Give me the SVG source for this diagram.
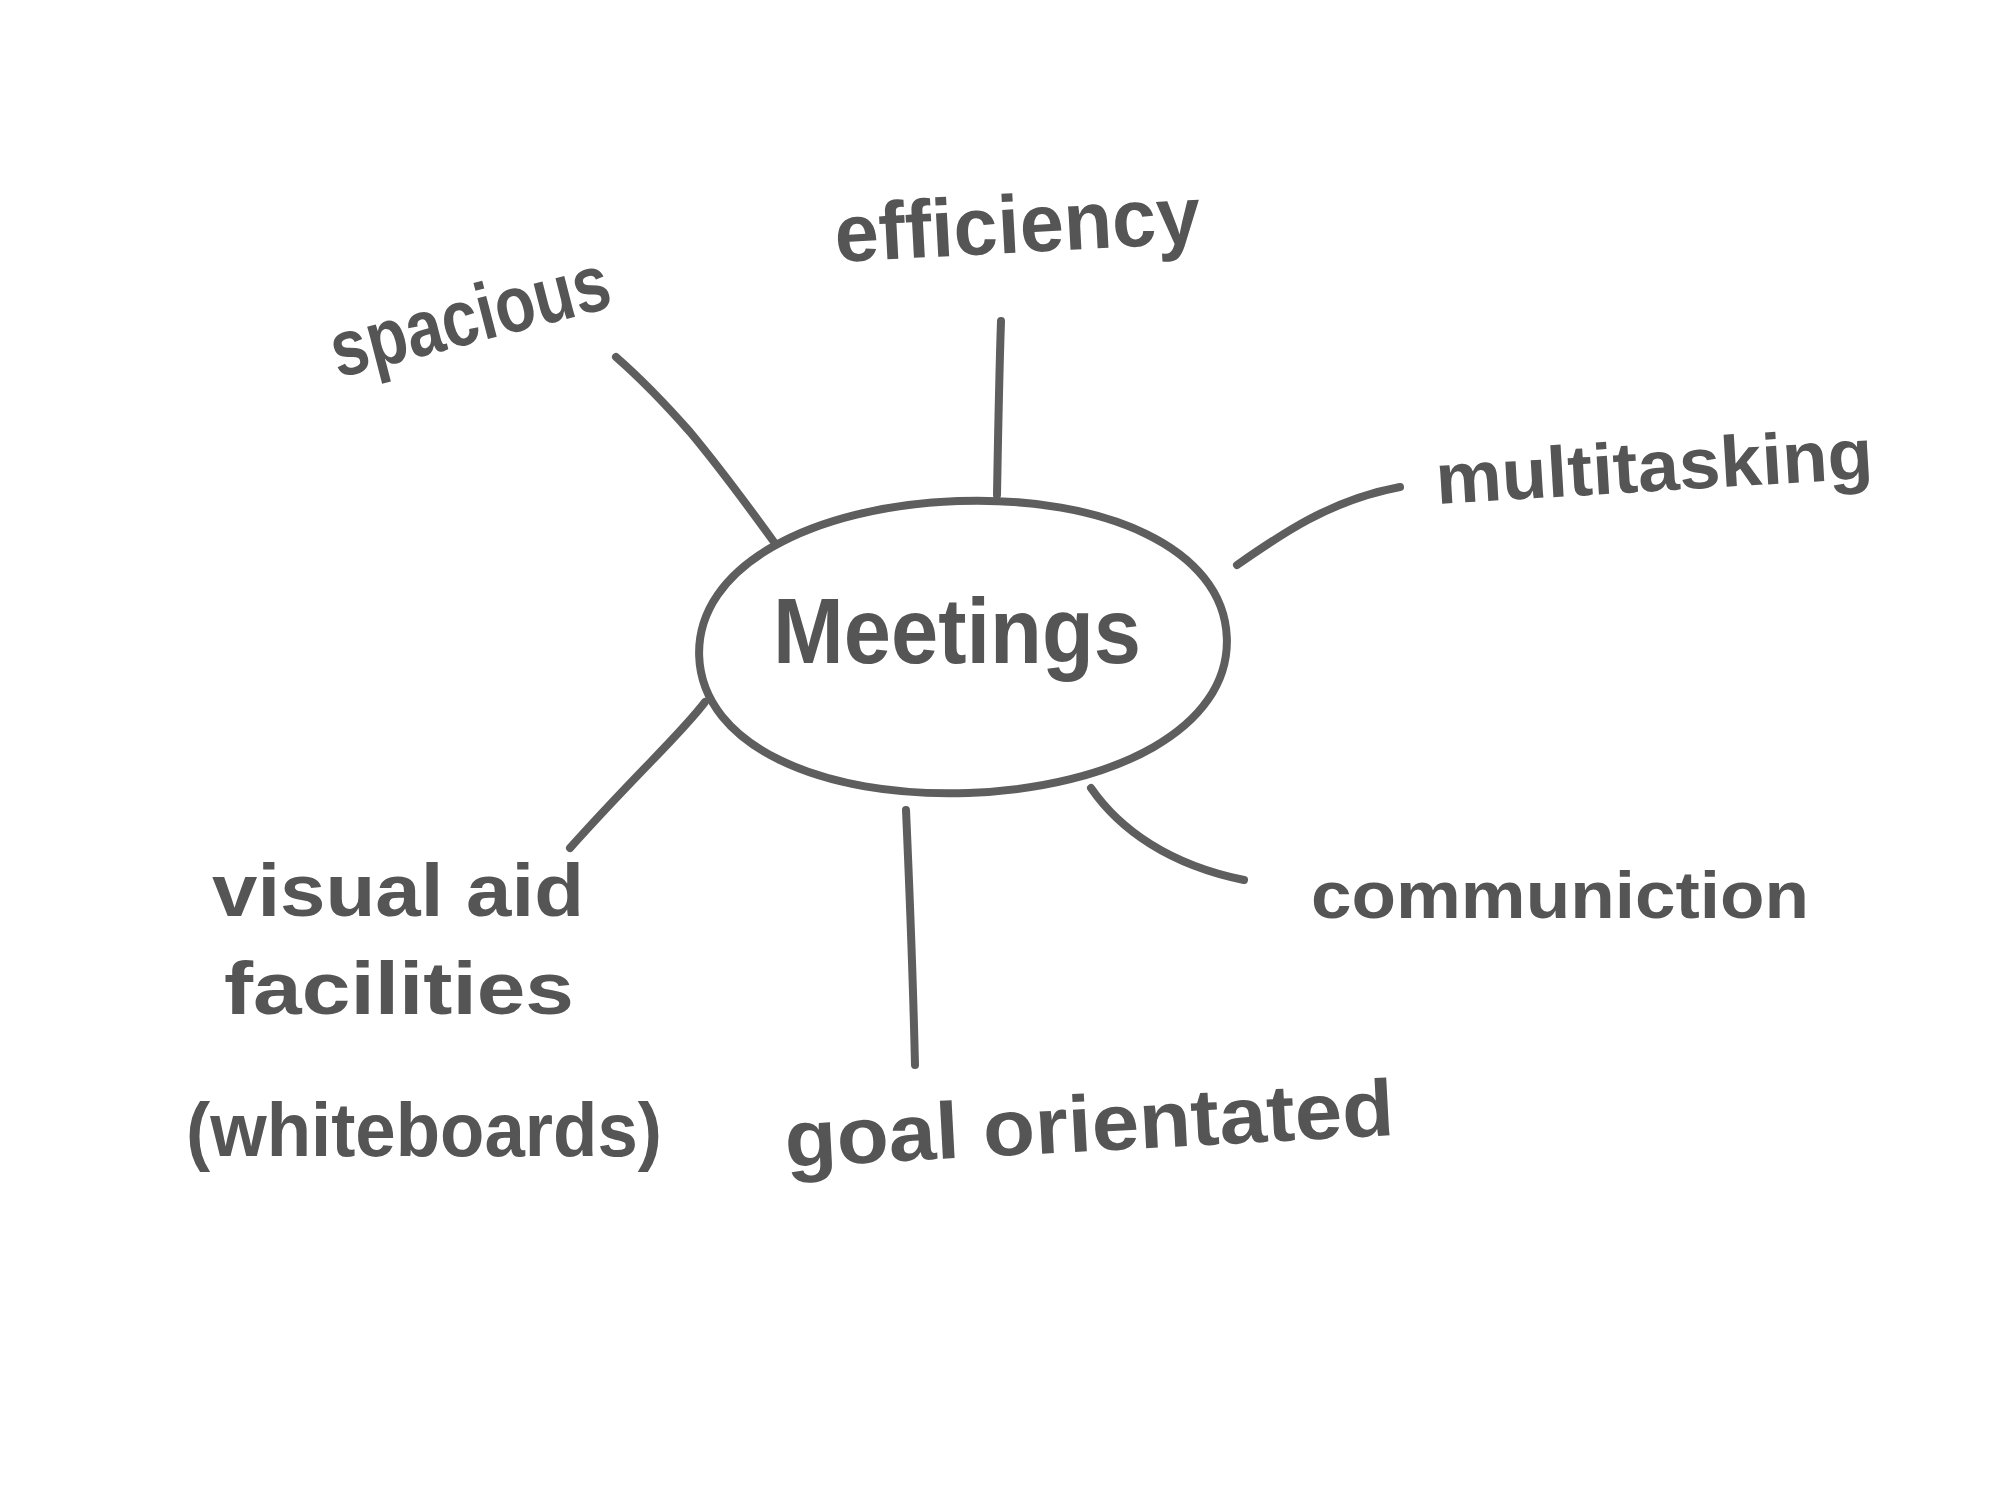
<svg xmlns="http://www.w3.org/2000/svg" width="2000" height="1500" viewBox="0 0 2000 1500">
<style>
.ln{fill:none;stroke:#5e5e5e;stroke-width:8;stroke-linecap:round;stroke-linejoin:round}
.t{font-family:"Liberation Sans","DejaVu Sans",sans-serif;fill:#555;font-weight:bold}
</style>
<rect width="2000" height="1500" fill="#fff"/>
<g id="center">
<path class="ln" d="M699,647 C699,557 817,501 963,501 C1109,501 1227,557 1227,647 C1227,737 1109,793 963,793 C817,793 699,737 699,647 Z" transform="rotate(-2 963 647)"/>
<text class="t" x="773" y="663" font-size="92" textLength="368" lengthAdjust="spacingAndGlyphs">Meetings</text>
</g>
<g id="connectors">
<path class="ln" d="M616,357 C640,378 660,398 690,432 C715,462 740,495 774,542"/>
<path class="ln" d="M1001,321 C999,380 998,440 997,495"/>
<path class="ln" d="M1237,565 C1280,535 1330,500 1400,487"/>
<path class="ln" d="M1091,788 C1120,830 1170,865 1244,880"/>
<path class="ln" d="M906,810 C910,900 913,980 915,1065"/>
<path class="ln" d="M705,702 C680,735 640,770 570,848"/>
</g>
<g id="spacious">
<text class="t" x="338" y="378" font-size="80" textLength="286" lengthAdjust="spacingAndGlyphs" transform="rotate(-14.5 338 378)">spacious</text>
</g>
<g id="efficiency">
<text class="t" x="836" y="262" font-size="82" textLength="366" lengthAdjust="spacingAndGlyphs" transform="rotate(-3 836 262)">efficiency</text>
</g>
<g id="multitasking">
<text class="t" x="1437" y="504" font-size="72" textLength="438" lengthAdjust="spacingAndGlyphs" transform="rotate(-3.4 1437 504)">multitasking</text>
</g>
<g id="communiction">
<text class="t" x="1311" y="918" font-size="66" textLength="498" lengthAdjust="spacingAndGlyphs">communiction</text>
</g>
<g id="goal">
<text class="t" x="786" y="1167" font-size="80" textLength="610" lengthAdjust="spacingAndGlyphs" transform="rotate(-3 786 1167)">goal orientated</text>
</g>
<g id="visual">
<text class="t" x="212" y="916" font-size="74" textLength="372" lengthAdjust="spacingAndGlyphs">visual aid</text>
<text class="t" x="224" y="1014" font-size="74" textLength="350" lengthAdjust="spacingAndGlyphs">facilities</text>
<text class="t" x="186" y="1156" font-size="76" textLength="476" lengthAdjust="spacingAndGlyphs">(whiteboards)</text>
</g>
</svg>
